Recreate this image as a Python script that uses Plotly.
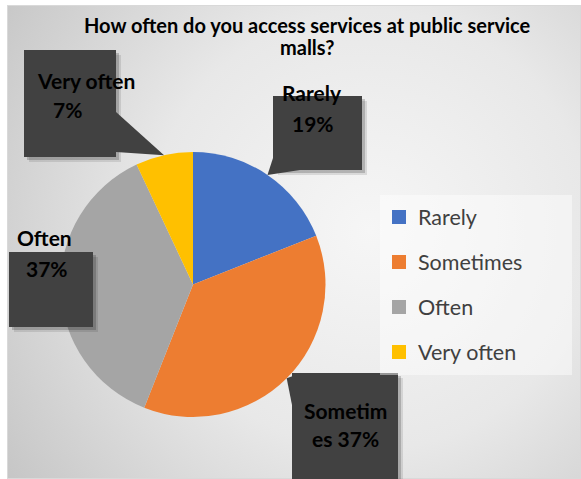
import base64
import math
import plotly.graph_objects as go

# ---- data -------------------------------------------------------------
categories = ["Rarely", "Sometimes", "Often", "Very often"]
shares = [19, 37, 37, 7]
colors = ["#4472C4", "#ED7D31", "#A5A5A5", "#FFC000"]
title_lines = ["How often do you access services at public service", "malls?"]

# ---- canvas / geometry (pixels) --------------------------------------
W, H = 581, 479
CX, CY, R = 193, 284.5, 132.5
FONT = "Lato, 'Open Sans', sans-serif"


def px(x):
    return x / W


def py(y):
    return 1 - y / H


def edge_point(frac, r=R):
    """Point on the pie rim at a cumulative fraction (clockwise from 12 o'clock)."""
    a = 2 * math.pi * frac
    return CX + r * math.sin(a), CY - r * math.cos(a)


total = sum(shares)
mids = []
acc = 0
for v in shares:
    mids.append((acc + v / 2) / total)
    acc += v
tips = {c: edge_point(m) for c, m in zip(categories, mids)}

# ---- background: soft radial grey gradient inside a frame ------------
svg = f"""<svg xmlns='http://www.w3.org/2000/svg' width='{W}' height='{H}' viewBox='0 0 {W} {H}' preserveAspectRatio='none'>
<defs><radialGradient id='g' gradientUnits='userSpaceOnUse' cx='370' cy='230' r='440'>
<stop offset='0' stop-color='#f6f6f6'/><stop offset='0.5' stop-color='#e8e8e8'/><stop offset='1' stop-color='#c6c6c6'/>
</radialGradient></defs>
<rect x='0' y='0' width='{W}' height='{H}' fill='#ffffff'/>
<rect x='7' y='5' width='{W - 7}' height='{H - 5}' fill='url(#g)'/>
<rect x='7.5' y='5.5' width='{W - 8}' height='{H - 6}' fill='none' stroke='#d9d9d9' stroke-width='1'/>
</svg>"""
bg_uri = "data:image/svg+xml;base64," + base64.b64encode(svg.encode()).decode()

fig = go.Figure()
fig.add_trace(go.Pie(
    labels=categories,
    values=shares,
    marker=dict(colors=colors, line=dict(width=0)),
    sort=False,
    direction="clockwise",
    rotation=0,
    textinfo="none",
    hoverinfo="label+percent",
    showlegend=False,
    domain=dict(x=[px(CX - R), px(CX + R)], y=[py(CY + R), py(CY - R)]),
))

shapes = []
annotations = []
BOX = "#414141"
LABEL_FONT = dict(family=FONT, size=21, color="#000000", weight=700)


def path(points):
    return "M " + " L ".join(f"{px(x)},{py(y)}" for x, y in points) + " Z"


def callout(x0, y0, x1, y1, pointer=None):
    # soft drop shadow in two layers
    for off, alpha in ((5, 0.10), (3, 0.18)):
        shapes.append(dict(type="rect", xref="paper", yref="paper", layer="above",
                           x0=px(x0 + off), x1=px(x1 + off), y0=py(y1 + off), y1=py(y0 + off),
                           fillcolor=f"rgba(0,0,0,{alpha})", line=dict(width=0)))
    if pointer:
        shapes.append(dict(type="path", xref="paper", yref="paper", layer="above",
                           path=path(pointer), fillcolor=BOX, line=dict(width=0)))
    shapes.append(dict(type="rect", xref="paper", yref="paper", layer="above",
                       x0=px(x0), x1=px(x1), y0=py(y1), y1=py(y0),
                       fillcolor=BOX, line=dict(width=0)))


def label(text, x, y, font=LABEL_FONT):
    annotations.append(dict(text=text, x=px(x), y=py(y), xref="paper", yref="paper",
                            showarrow=False, xanchor="center", yanchor="middle",
                            font=font))


pct = {c: f"{v / total * 100:.0f}%" for c, v in zip(categories, shares)}

# Very often
callout(24, 50, 116, 157, [(116, 112), tips["Very often"], (116, 152)])
label("Very often", 86, 80)
label(pct["Very often"], 67, 110)

# Rarely
callout(273, 96, 362, 170, [(273, 158), (300, 170), tips["Rarely"]])
label("Rarely", 312, 92)
label(pct["Rarely"], 313, 124)

# Often
callout(9, 252, 93, 327)
label("Often", 44, 237)
label(pct["Often"], 47, 268)

# Sometimes
callout(292, 373, 398, 485, [tips["Sometimes"], (293, 376), (293, 410)])
label("Sometim", 345, 410)
label("es " + pct["Sometimes"], 345, 438)

# ---- legend panel ------------------------------------------------------
shapes.append(dict(type="rect", xref="paper", yref="paper", layer="above",
                   x0=px(380), x1=px(572), y0=py(375), y1=py(195),
                   fillcolor="rgba(255,255,255,0.45)", line=dict(width=0)))
for i, (c, col) in enumerate(zip(categories, colors)):
    yc = 217 + 45 * i
    shapes.append(dict(type="rect", xref="paper", yref="paper", layer="above",
                       x0=px(392), x1=px(406), y0=py(yc + 7), y1=py(yc - 7),
                       fillcolor=col, line=dict(width=0)))
    annotations.append(dict(text=c, x=px(416), y=py(yc), xref="paper", yref="paper",
                            showarrow=False, xanchor="left", yanchor="middle",
                            font=dict(family=FONT, size=21.5, color="#404040")))

# ---- title (two lines with tight leading) -----------------------------
TITLE_FONT = dict(family=FONT, size=20, color="#000000", weight=700)
for i, line in enumerate(title_lines):
    label(line, 307, 25 + 22 * i, TITLE_FONT)

fig.update_layout(
    width=W, height=H,
    margin=dict(l=0, r=0, t=0, b=0),
    paper_bgcolor="#ffffff",
    plot_bgcolor="rgba(0,0,0,0)",
    showlegend=False,
    images=[dict(source=bg_uri, xref="paper", yref="paper", x=0, y=1, sizex=1, sizey=1,
                 xanchor="left", yanchor="top", sizing="stretch", layer="below")],
    shapes=shapes,
    annotations=annotations,
)

fig.write_html("out.html")
